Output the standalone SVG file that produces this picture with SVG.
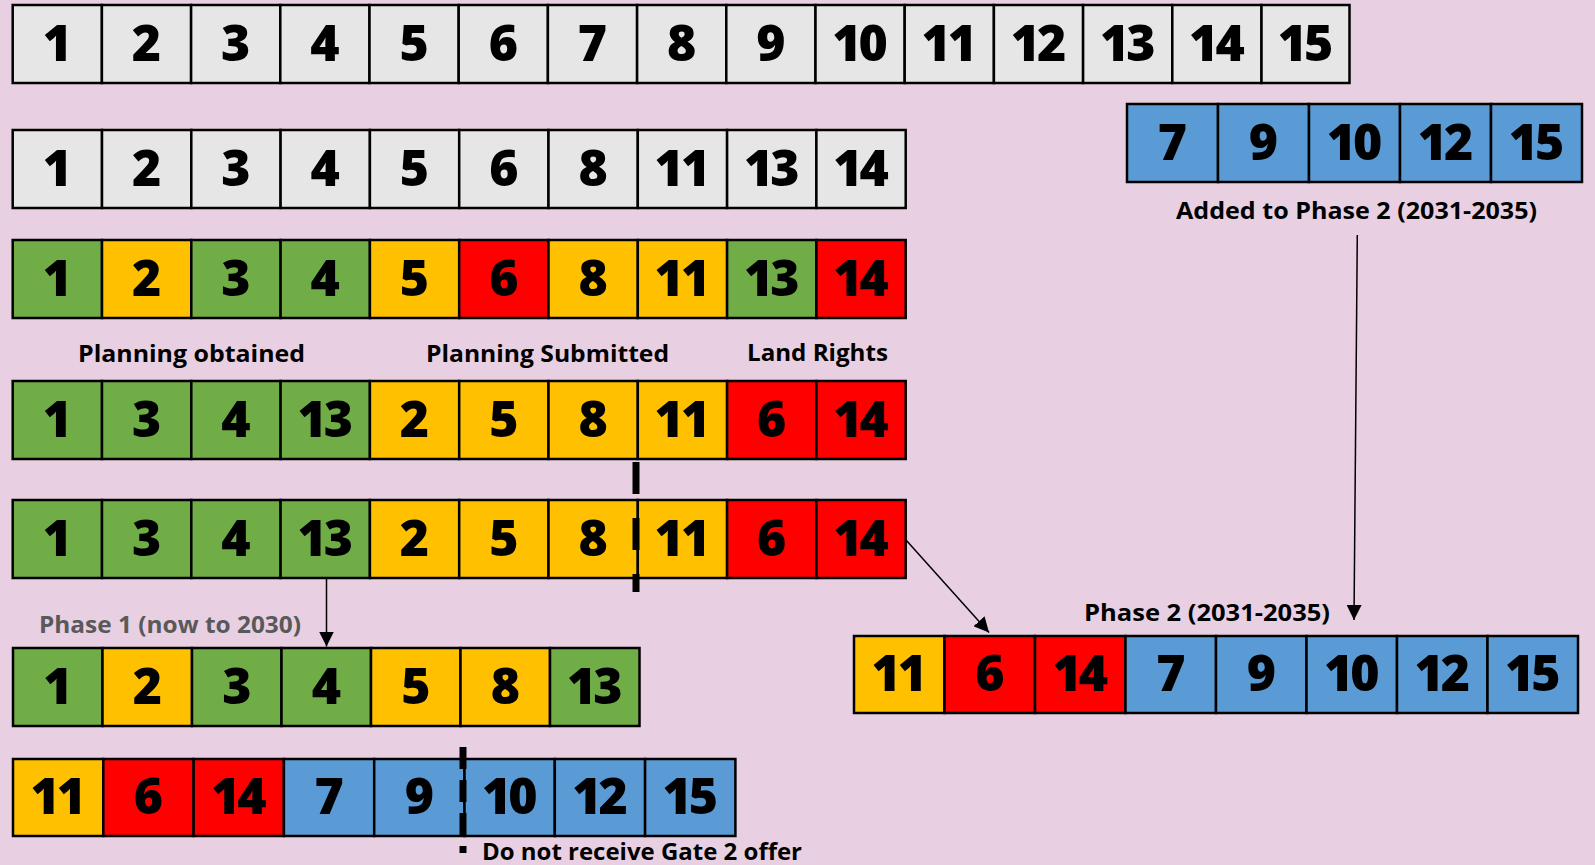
<svg xmlns="http://www.w3.org/2000/svg" width="1595" height="865" viewBox="0 0 1595 865">
<defs>
<style>
.bg{fill:#E8D0E2}
.c{stroke:#000;stroke-width:2.5}
.g{fill:#E7E6E6}.gr{fill:#70AD47}.y{fill:#FFC000}.r{fill:#FF0000}.b{fill:#5B9BD5}
.n{font-family:"Open Sans","Liberation Sans",sans-serif;font-weight:800;font-size:50px;text-anchor:middle;fill:#000;letter-spacing:-3px}
.l{font-family:"Open Sans","Liberation Sans",sans-serif;font-weight:700;font-size:24px;fill:#000}
.conn{stroke:#000;stroke-width:1.5;fill:none}
.dash{stroke:#000;stroke-width:7;fill:none}
</style>
<marker id="ah" viewBox="0 0 10 10" refX="10" refY="5" markerWidth="15" markerHeight="15" markerUnits="userSpaceOnUse" orient="auto">
<path d="M0,0 L10,5 L0,10 Z" fill="#000"/>
</marker>
</defs>
<rect class="bg" x="0" y="0" width="1595" height="865"/>

<g id="row-all">
<rect class="c g" x="12.7" y="5" width="89.2" height="78"/><text class="n" x="55.8" y="60.5">1</text>
<rect class="c g" x="101.9" y="5" width="89.2" height="78"/><text class="n" x="145" y="60.5">2</text>
<rect class="c g" x="191.1" y="5" width="89.2" height="78"/><text class="n" x="234.2" y="60.5">3</text>
<rect class="c g" x="280.3" y="5" width="89.2" height="78"/><text class="n" x="323.4" y="60.5">4</text>
<rect class="c g" x="369.5" y="5" width="89.2" height="78"/><text class="n" x="412.6" y="60.5">5</text>
<rect class="c g" x="458.7" y="5" width="89.2" height="78"/><text class="n" x="501.8" y="60.5">6</text>
<rect class="c g" x="547.9" y="5" width="89.2" height="78"/><text class="n" x="591" y="60.5">7</text>
<rect class="c g" x="637.1" y="5" width="89.2" height="78"/><text class="n" x="680.2" y="60.5">8</text>
<rect class="c g" x="726.3" y="5" width="89.2" height="78"/><text class="n" x="769.4" y="60.5">9</text>
<rect class="c g" x="815.5" y="5" width="89.2" height="78"/><text class="n" x="858.6" y="60.5">10</text>
<rect class="c g" x="904.7" y="5" width="89.2" height="78"/><text class="n" x="947.8" y="60.5">11</text>
<rect class="c g" x="993.9" y="5" width="89.2" height="78"/><text class="n" x="1037" y="60.5">12</text>
<rect class="c g" x="1083.1" y="5" width="89.2" height="78"/><text class="n" x="1126.2" y="60.5">13</text>
<rect class="c g" x="1172.3" y="5" width="89.2" height="78"/><text class="n" x="1215.4" y="60.5">14</text>
<rect class="c g" x="1261.5" y="5" width="88" height="78"/><text class="n" x="1304" y="60.5">15</text>
</g>

<g id="row-subset">
<rect class="c g" x="12.7" y="130" width="89.3" height="78"/><text class="n" x="55.8" y="185.5">1</text>
<rect class="c g" x="102" y="130" width="89.3" height="78"/><text class="n" x="145.1" y="185.5">2</text>
<rect class="c g" x="191.3" y="130" width="89.3" height="78"/><text class="n" x="234.4" y="185.5">3</text>
<rect class="c g" x="280.6" y="130" width="89.3" height="78"/><text class="n" x="323.7" y="185.5">4</text>
<rect class="c g" x="369.9" y="130" width="89.3" height="78"/><text class="n" x="413" y="185.5">5</text>
<rect class="c g" x="459.2" y="130" width="89.3" height="78"/><text class="n" x="502.3" y="185.5">6</text>
<rect class="c g" x="548.5" y="130" width="89.3" height="78"/><text class="n" x="591.6" y="185.5">8</text>
<rect class="c g" x="637.8" y="130" width="89.3" height="78"/><text class="n" x="680.9" y="185.5">11</text>
<rect class="c g" x="727.1" y="130" width="89.3" height="78"/><text class="n" x="770.2" y="185.5">13</text>
<rect class="c g" x="816.4" y="130" width="89.3" height="78"/><text class="n" x="859.5" y="185.5">14</text>
</g>

<g id="row-status">
<rect class="c gr" x="12.7" y="240" width="89.3" height="78"/><text class="n" x="55.8" y="295.5">1</text>
<rect class="c y" x="102" y="240" width="89.3" height="78"/><text class="n" x="145.1" y="295.5">2</text>
<rect class="c gr" x="191.3" y="240" width="89.3" height="78"/><text class="n" x="234.4" y="295.5">3</text>
<rect class="c gr" x="280.6" y="240" width="89.3" height="78"/><text class="n" x="323.7" y="295.5">4</text>
<rect class="c y" x="369.9" y="240" width="89.3" height="78"/><text class="n" x="413" y="295.5">5</text>
<rect class="c r" x="459.2" y="240" width="89.3" height="78"/><text class="n" x="502.3" y="295.5">6</text>
<rect class="c y" x="548.5" y="240" width="89.3" height="78"/><text class="n" x="591.6" y="295.5">8</text>
<rect class="c y" x="637.8" y="240" width="89.3" height="78"/><text class="n" x="680.9" y="295.5">11</text>
<rect class="c gr" x="727.1" y="240" width="89.3" height="78"/><text class="n" x="770.2" y="295.5">13</text>
<rect class="c r" x="816.4" y="240" width="89.3" height="78"/><text class="n" x="859.5" y="295.5">14</text>
</g>

<g id="labels-status">
<text class="l" x="78" y="362" textLength="227" lengthAdjust="spacingAndGlyphs">Planning obtained</text>
<text class="l" x="426" y="362" textLength="243" lengthAdjust="spacingAndGlyphs">Planning Submitted</text>
<text class="l" x="747" y="361" textLength="141" lengthAdjust="spacingAndGlyphs">Land Rights</text>
</g>

<g id="row-sorted">
<rect class="c gr" x="12.7" y="381" width="89.3" height="78"/><text class="n" x="55.8" y="436.5">1</text>
<rect class="c gr" x="102" y="381" width="89.3" height="78"/><text class="n" x="145.1" y="436.5">3</text>
<rect class="c gr" x="191.3" y="381" width="89.3" height="78"/><text class="n" x="234.4" y="436.5">4</text>
<rect class="c gr" x="280.6" y="381" width="89.3" height="78"/><text class="n" x="323.7" y="436.5">13</text>
<rect class="c y" x="369.9" y="381" width="89.3" height="78"/><text class="n" x="413" y="436.5">2</text>
<rect class="c y" x="459.2" y="381" width="89.3" height="78"/><text class="n" x="502.3" y="436.5">5</text>
<rect class="c y" x="548.5" y="381" width="89.3" height="78"/><text class="n" x="591.6" y="436.5">8</text>
<rect class="c y" x="637.8" y="381" width="89.3" height="78"/><text class="n" x="680.9" y="436.5">11</text>
<rect class="c r" x="727.1" y="381" width="89.3" height="78"/><text class="n" x="770.2" y="436.5">6</text>
<rect class="c r" x="816.4" y="381" width="89.3" height="78"/><text class="n" x="859.5" y="436.5">14</text>
</g>

<g id="row-split">
<rect class="c gr" x="12.7" y="500" width="89.3" height="78"/><text class="n" x="55.8" y="555.5">1</text>
<rect class="c gr" x="102" y="500" width="89.3" height="78"/><text class="n" x="145.1" y="555.5">3</text>
<rect class="c gr" x="191.3" y="500" width="89.3" height="78"/><text class="n" x="234.4" y="555.5">4</text>
<rect class="c gr" x="280.6" y="500" width="89.3" height="78"/><text class="n" x="323.7" y="555.5">13</text>
<rect class="c y" x="369.9" y="500" width="89.3" height="78"/><text class="n" x="413" y="555.5">2</text>
<rect class="c y" x="459.2" y="500" width="89.3" height="78"/><text class="n" x="502.3" y="555.5">5</text>
<rect class="c y" x="548.5" y="500" width="89.3" height="78"/><text class="n" x="591.6" y="555.5">8</text>
<rect class="c y" x="637.8" y="500" width="89.3" height="78"/><text class="n" x="680.9" y="555.5">11</text>
<rect class="c r" x="727.1" y="500" width="89.3" height="78"/><text class="n" x="770.2" y="555.5">6</text>
<rect class="c r" x="816.4" y="500" width="89.3" height="78"/><text class="n" x="859.5" y="555.5">14</text>
</g>

<g id="row-added">
<rect class="c b" x="1127" y="104" width="91" height="78"/><text class="n" x="1171" y="159.5">7</text>
<rect class="c b" x="1218" y="104" width="91" height="78"/><text class="n" x="1262" y="159.5">9</text>
<rect class="c b" x="1309" y="104" width="91" height="78"/><text class="n" x="1353" y="159.5">10</text>
<rect class="c b" x="1400" y="104" width="91" height="78"/><text class="n" x="1444" y="159.5">12</text>
<rect class="c b" x="1491" y="104" width="91" height="78"/><text class="n" x="1535" y="159.5">15</text>
<text class="l" x="1176" y="219" textLength="361" lengthAdjust="spacingAndGlyphs">Added to Phase 2 (2031-2035)</text>
</g>

<g id="row-phase1">
<text class="l" x="39" y="633" textLength="262" lengthAdjust="spacingAndGlyphs" style="fill:#595959">Phase 1 (now to 2030)</text>
<rect class="c gr" x="13" y="648" width="89.5" height="78"/><text class="n" x="56.3" y="703.5">1</text>
<rect class="c y" x="102.5" y="648" width="89.5" height="78"/><text class="n" x="145.8" y="703.5">2</text>
<rect class="c gr" x="192" y="648" width="89.5" height="78"/><text class="n" x="235.3" y="703.5">3</text>
<rect class="c gr" x="281.5" y="648" width="89.5" height="78"/><text class="n" x="324.8" y="703.5">4</text>
<rect class="c y" x="371" y="648" width="89.5" height="78"/><text class="n" x="414.3" y="703.5">5</text>
<rect class="c y" x="460.5" y="648" width="89.5" height="78"/><text class="n" x="503.8" y="703.5">8</text>
<rect class="c gr" x="550" y="648" width="89.5" height="78"/><text class="n" x="593.3" y="703.5">13</text>
</g>

<g id="row-phase2">
<text class="l" x="1084" y="621" textLength="246" lengthAdjust="spacingAndGlyphs">Phase 2 (2031-2035)</text>
<rect class="c y" x="854" y="636" width="90.5" height="77"/><text class="n" x="897.8" y="691">11</text>
<rect class="c r" x="944.5" y="636" width="90.5" height="77"/><text class="n" x="988.3" y="691">6</text>
<rect class="c r" x="1035" y="636" width="90.5" height="77"/><text class="n" x="1078.8" y="691">14</text>
<rect class="c b" x="1125.5" y="636" width="90.5" height="77"/><text class="n" x="1169.3" y="691">7</text>
<rect class="c b" x="1216" y="636" width="90.5" height="77"/><text class="n" x="1259.8" y="691">9</text>
<rect class="c b" x="1306.5" y="636" width="90.5" height="77"/><text class="n" x="1350.3" y="691">10</text>
<rect class="c b" x="1397" y="636" width="90.5" height="77"/><text class="n" x="1440.8" y="691">12</text>
<rect class="c b" x="1487.5" y="636" width="90.5" height="77"/><text class="n" x="1531.3" y="691">15</text>
</g>

<g id="row-remaining">
<rect class="c y" x="13" y="759" width="90.3" height="77"/><text class="n" x="56.7" y="814">11</text>
<rect class="c r" x="103.3" y="759" width="90.3" height="77"/><text class="n" x="147" y="814">6</text>
<rect class="c r" x="193.6" y="759" width="90.3" height="77"/><text class="n" x="237.3" y="814">14</text>
<rect class="c b" x="283.9" y="759" width="90.3" height="77"/><text class="n" x="327.6" y="814">7</text>
<rect class="c b" x="374.2" y="759" width="90.3" height="77"/><text class="n" x="417.9" y="814">9</text>
<rect class="c b" x="464.5" y="759" width="90.3" height="77"/><text class="n" x="508.2" y="814">10</text>
<rect class="c b" x="554.8" y="759" width="90.3" height="77"/><text class="n" x="598.5" y="814">12</text>
<rect class="c b" x="645.1" y="759" width="90.3" height="77"/><text class="n" x="688.8" y="814">15</text>
<text class="l" x="482" y="860" textLength="320" lengthAdjust="spacingAndGlyphs">Do not receive Gate 2 offer</text>
</g>

<g id="connectors">
<line class="conn" x1="1357.3" y1="235" x2="1354" y2="620" marker-end="url(#ah)"/>
<line class="conn" x1="906" y1="540" x2="989" y2="632.5" marker-end="url(#ah)"/>
<line class="conn" x1="326.5" y1="578" x2="326.5" y2="646.5" marker-end="url(#ah)"/>
<path class="dash" d="M636,462 V592" stroke-dasharray="32 24"/>
<path class="dash" d="M463,747 V853" stroke-dasharray="22 11"/>
</g>
</svg>
